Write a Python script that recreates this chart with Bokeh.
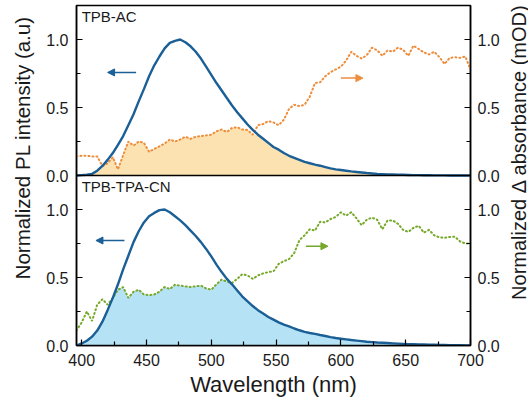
import math
import numpy as np
from bokeh.plotting import figure
from bokeh.layouts import row
from bokeh.models import Range1d, LinearAxis, FixedTicker, Span, Label, Arrow, NormalHead
from bokeh.embed import file_html
from bokeh.resources import INLINE

# ---------------- data ----------------
wavelength = list(range(396, 701, 4))

pl_ac = [0.0, 0.003, 0.006, 0.012, 0.035, 0.07, 0.115, 0.165, 0.225, 0.29,
         0.37, 0.45, 0.545, 0.635, 0.73, 0.81, 0.875, 0.935, 0.975, 0.99,
         1.0, 0.98, 0.95, 0.91, 0.86, 0.80, 0.74, 0.68, 0.625, 0.57,
         0.515, 0.465, 0.42, 0.375, 0.335, 0.30, 0.27, 0.24, 0.21, 0.19,
         0.165, 0.145, 0.13, 0.115, 0.10, 0.09, 0.08, 0.072, 0.062, 0.052,
         0.045, 0.04, 0.035, 0.03, 0.026, 0.022, 0.018, 0.015, 0.012, 0.01,
         0.008, 0.007, 0.006, 0.005, 0.004, 0.003, 0.003, 0.002, 0.002, 0.001,
         0.001, 0.001, 0.0, 0.0, 0.0, 0.0, 0.0]

abs_ac = [0.14, 0.145, 0.145, 0.14, 0.14, 0.07, 0.09, 0.135, 0.045, 0.15,
          0.25, 0.22, 0.25, 0.24, 0.175, 0.195, 0.215, 0.235, 0.265, 0.25,
          0.265, 0.285, 0.27, 0.285, 0.29, 0.295, 0.30, 0.325, 0.338, 0.32,
          0.35, 0.355, 0.338, 0.335, 0.30, 0.37, 0.378, 0.40, 0.39, 0.37,
          0.41, 0.49, 0.52, 0.51, 0.52, 0.58, 0.68, 0.685, 0.73, 0.76,
          0.78, 0.80, 0.845, 0.91, 0.88, 0.86, 0.885, 0.94, 0.92, 0.88,
          0.92, 0.91, 0.94, 0.925, 0.88, 0.955, 0.93, 0.905, 0.89, 0.91,
          0.87, 0.82, 0.865, 0.87, 0.865, 0.875, 0.78]

pl_cn = [0.0, 0.015, 0.035, 0.065, 0.11, 0.175, 0.26, 0.35, 0.45, 0.56,
         0.66, 0.76, 0.84, 0.905, 0.95, 0.975, 0.995, 1.0, 0.98, 0.95,
         0.92, 0.885, 0.845, 0.805, 0.76, 0.71, 0.655, 0.595, 0.54, 0.49,
         0.45, 0.405, 0.36, 0.325, 0.29, 0.26, 0.235, 0.21, 0.19, 0.17,
         0.153, 0.14, 0.125, 0.112, 0.10, 0.092, 0.085, 0.077, 0.07, 0.062,
         0.055, 0.05, 0.045, 0.04, 0.036, 0.032, 0.028, 0.025, 0.022, 0.02,
         0.018, 0.016, 0.014, 0.012, 0.01, 0.009, 0.008, 0.007, 0.006, 0.005,
         0.004, 0.004, 0.003, 0.002, 0.002, 0.001, 0.001]

abs_cn = [0.11, 0.17, 0.25, 0.18, 0.30, 0.34, 0.30, 0.35, 0.41, 0.43,
          0.35, 0.395, 0.41, 0.375, 0.37, 0.375, 0.395, 0.43, 0.415, 0.447,
          0.44, 0.435, 0.43, 0.435, 0.44, 0.42, 0.41, 0.45, 0.485, 0.47,
          0.46, 0.49, 0.525, 0.515, 0.49, 0.515, 0.53, 0.54, 0.545, 0.60,
          0.62, 0.635, 0.68, 0.775, 0.81, 0.855, 0.845, 0.91, 0.905, 0.93,
          0.945, 0.98, 0.955, 0.98, 0.935, 0.885, 0.925, 0.94, 0.925, 0.855,
          0.92, 0.92, 0.895, 0.85, 0.835, 0.865, 0.88, 0.83, 0.85, 0.81,
          0.795, 0.792, 0.798, 0.80, 0.765, 0.75, 0.75]

x_ticks = [400, 450, 500, 550, 600, 650, 700]
x_minor = [425, 475, 525, 575, 625, 675]
panel_names = ["TPB-AC", "TPB-TPA-CN"]
x_title = "Wavelength (nm)"
y_title_left = "Normalized PL intensity (a.u)"
y_title_right = "Normalized \u0394 absorbance (mOD)"

# ---------------- style ----------------
BLUE = "#1a5f96"
ORANGE = "#ee8d3c"
ORANGE_FILL = "#fbe2b0"
GREEN = "#76a82a"
BLUE_FILL = "#b5e2f5"
FONT = "Liberation Sans"
TXT = "#1a1a1a"
H = 399
LEFT_W, MAIN_W, RIGHT_W = 40, 465, 23

p = figure(width=MAIN_W, height=H, x_range=Range1d(396, 700), y_range=Range1d(0, 2.5),
           output_backend="svg", toolbar_location=None,
           min_border_left=36, min_border_right=35, min_border_top=5, min_border_bottom=0)
p.extra_y_ranges = {"top": Range1d(-1.25, 1.25)}

p.xgrid.visible = False
p.ygrid.visible = False
p.outline_line_color = "black"
p.outline_line_width = 1.5
p.background_fill_color = "white"
p.border_fill_color = "white"

# top panel (TPB-AC)
p.varea(x=wavelength, y1=0, y2=np.minimum(pl_ac, abs_ac), fill_color=ORANGE_FILL, y_range_name="top")
p.line(wavelength, abs_ac, line_color=ORANGE, line_width=2, line_dash="1 3", line_cap="round", y_range_name="top")
p.line(wavelength, pl_ac, line_color=BLUE, line_width=2.4, y_range_name="top")

# bottom panel (TPB-TPA-CN)
p.varea(x=wavelength, y1=0, y2=np.minimum(pl_cn, abs_cn), fill_color=BLUE_FILL)
p.line(wavelength, abs_cn, line_color=GREEN, line_width=2, line_dash="1 3", line_cap="round")
p.line(wavelength, pl_cn, line_color=BLUE, line_width=2.4)

p.add_layout(Span(location=1.25, dimension="width", line_color="black", line_width=1.5))

# arrows
def arrow(x0, x1, y, c, rname="default"):
    p.add_layout(Arrow(end=NormalHead(size=7, fill_color=c, line_color=c, line_width=1),
                       x_start=x0, y_start=y, x_end=x1, y_end=y,
                       line_color=c, line_width=1.5, y_range_name=rname))

arrow(442, 420, 0.758, BLUE, "top")
arrow(600, 617, 0.716, ORANGE, "top")
arrow(433, 411, 0.772, BLUE)
arrow(573, 590, 0.73, GREEN)

# panel labels
p.add_layout(Label(x=400, y=1.11, text=panel_names[0], y_range_name="top",
                   text_font=FONT, text_font_size="15px", text_color=TXT))
p.add_layout(Label(x=400, y=1.11, text=panel_names[1],
                   text_font=FONT, text_font_size="15px", text_color=TXT))

# axes
y_major = [0, 0.5, 1.0, 1.25, 1.75, 2.25]
y_minor = [0.25, 0.75, 1.5, 2.0]
y_labels = {0: "0.0", 0.5: "0.5", 1.0: "1.0", 1.25: "0.0", 1.75: "0.5", 2.25: "1.0"}

def style_axis(ax):
    ax.major_label_text_font = FONT
    ax.major_label_text_font_size = "16px"
    ax.major_label_text_color = TXT
    ax.axis_line_color = "black"
    ax.axis_line_width = 1.5
    ax.major_tick_line_color = "black"
    ax.minor_tick_line_color = "black"
    ax.major_tick_line_width = 1.2
    ax.minor_tick_line_width = 1.2
    ax.major_tick_in = 6
    ax.major_tick_out = 0
    ax.minor_tick_in = 4
    ax.minor_tick_out = 0

xa = p.xaxis[0]
xa.ticker = FixedTicker(ticks=x_ticks, minor_ticks=x_minor)
style_axis(xa)
xa.axis_label = x_title
xa.axis_label_text_font = FONT
xa.axis_label_text_font_size = "22px"
xa.axis_label_text_font_style = "normal"
xa.axis_label_text_color = TXT
xa.major_label_standoff = 8
xa.axis_label_standoff = 3

ya = p.yaxis[0]
ya.ticker = FixedTicker(ticks=y_major, minor_ticks=y_minor)
ya.major_label_overrides = y_labels
style_axis(ya)
ya.major_label_standoff = 8

yr = LinearAxis(ticker=FixedTicker(ticks=y_major, minor_ticks=y_minor))
yr.major_label_overrides = y_labels
style_axis(yr)
yr.major_label_standoff = 7
p.add_layout(yr, "right")

# side figures carrying the rotated axis titles
def side_fig(w):
    f = figure(width=w, height=H, x_range=Range1d(0, w), y_range=Range1d(0, H),
               output_backend="svg", toolbar_location=None,
               x_axis_type=None, y_axis_type=None, min_border=0)
    f.outline_line_color = None
    f.xgrid.visible = False
    f.ygrid.visible = False
    f.background_fill_color = "white"
    f.border_fill_color = "white"
    return f

lf = side_fig(LEFT_W)
lf.add_layout(Label(x=22, y=H - 167, text=y_title_left, angle=math.pi / 2,
                    text_font=FONT, text_font_size="20.5px", text_color=TXT,
                    text_align="center", text_baseline="middle"))
rf = side_fig(RIGHT_W)
rf.add_layout(Label(x=13, y=H - 172, text=y_title_right, angle=math.pi / 2,
                    text_font=FONT, text_font_size="20px", text_color=TXT,
                    text_align="center", text_baseline="middle"))

layout = row(lf, p, rf)
open("out.html", "w").write(file_html(layout, INLINE))
